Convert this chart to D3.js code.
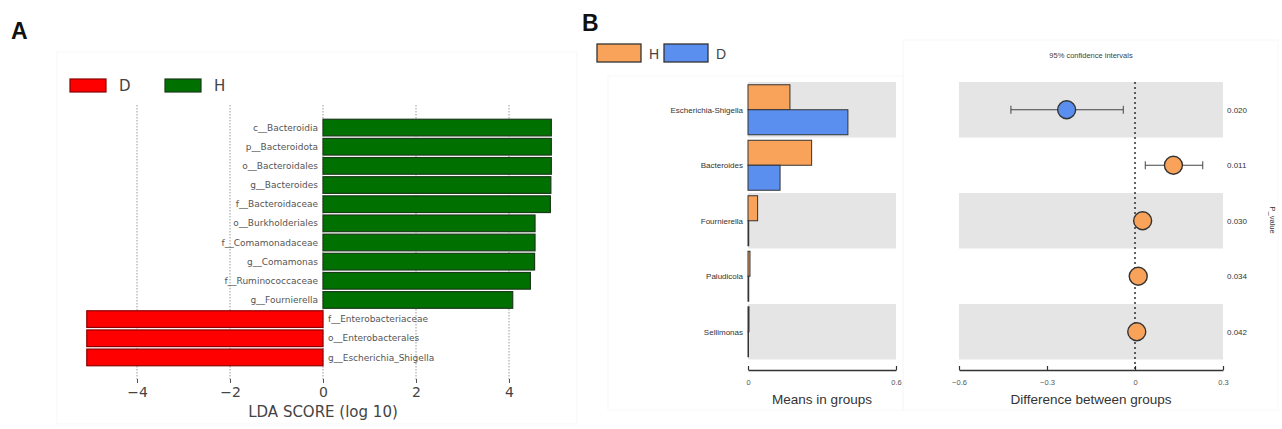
<!DOCTYPE html>
<html><head><meta charset="utf-8">
<script src="https://cdn.jsdelivr.net/npm/d3@7"></script>
<style>body{margin:0;background:#fff}svg{display:block}</style>
</head><body>
<script>
// ---- Panel A data (LEfSe) ----
const ldaLabels = ["c__Bacteroidia","p__Bacteroidota","o__Bacteroidales","g__Bacteroides","f__Bacteroidaceae","o__Burkholderiales","f__Comamonadaceae","g__Comamonas","f__Ruminococcaceae","g__Fournierella","f__Enterobacteriaceae","o__Enterobacterales","g__Escherichia_Shigella"];
const ldaScores = [4.91,4.91,4.91,4.90,4.89,4.56,4.56,4.55,4.46,4.08,-5.08,-5.08,-5.08];
const ldaTicks = [-4,-2,0,2,4];
const ldaGroups = ["D","H"];

// ---- Panel B data (STAMP) ----
const genera = ["Escherichia-Shigella","Bacteroides","Fournierella","Paludicola","Sellimonas"];
const meanH = [0.170,0.258,0.039,0.008,0.004];
const meanD = [0.405,0.130,0.003,0.003,0.002];
const diffs = [-0.233,0.131,0.026,0.011,0.006];
const ciLow = [-0.423,0.035,0.016,0.004,0.001];
const ciHigh = [-0.040,0.231,0.036,0.018,0.011];
const pValues = ["0.020","0.011","0.030","0.034","0.042"];
const meanTicks = [0,0.6];
const diffTicks = [-0.6,-0.3,0,0.3];
const groupsB = ["H","D"];

const W=1282,H=429;
const svg=d3.select("body").append("svg").attr("width",W).attr("height",H);

// ================= Panel A =================
const fA="DejaVu Sans, sans-serif";
svg.append("rect").attr("x",57).attr("y",52).attr("width",520).attr("height",372)
  .attr("fill","none").attr("stroke","#f7f7f7");
svg.append("text").attr("x",11).attr("y",39).text("A")
  .attr("font-family","Liberation Sans, Arial").attr("font-weight","bold").attr("font-size",23).attr("fill","#111");

const xA=d3.scaleLinear().domain([-4,4]).range([137,509]);
const yA=d3.scaleBand().domain(ldaLabels).range([118,367]).paddingInner(0.13).paddingOuter(0.065);
const colA={D:"#ff0000",H:"#007000"};
const strokeA={D:"#8b0000",H:"#1a3a1a"};

// grid
svg.append("g").selectAll("line").data(ldaTicks).join("line")
  .attr("x1",d=>xA(d)).attr("x2",d=>xA(d)).attr("y1",105).attr("y2",380)
  .attr("stroke","#999").attr("stroke-width",1).attr("stroke-dasharray","1.5,1.5");

// bars
svg.append("g").selectAll("rect").data(ldaLabels).join("rect")
  .attr("x",(d,i)=>xA(Math.min(0,ldaScores[i])))
  .attr("y",d=>yA(d))
  .attr("width",(d,i)=>Math.abs(xA(ldaScores[i])-xA(0)))
  .attr("height",yA.bandwidth())
  .attr("fill",(d,i)=>colA[ldaScores[i]<0?"D":"H"])
  .attr("stroke",(d,i)=>strokeA[ldaScores[i]<0?"D":"H"]).attr("stroke-width",1.2);

// labels
svg.append("g").selectAll("text").data(ldaLabels).join("text")
  .attr("x",(d,i)=>ldaScores[i]<0?xA(0)+5:xA(0)-5)
  .attr("y",d=>yA(d)+yA.bandwidth()/2)
  .attr("dy","0.35em")
  .attr("text-anchor",(d,i)=>ldaScores[i]<0?"start":"end")
  .attr("font-family",fA).attr("font-size",9).attr("fill","#555").text(d=>d);

// axis
const axA=svg.append("g").attr("transform","translate(0,379)")
  .call(d3.axisBottom(xA).tickValues(ldaTicks).tickSize(4).tickPadding(4).tickFormat(d=>d<0?"\u2212"+Math.abs(d):d));
axA.select(".domain").remove();
axA.selectAll("line").attr("stroke","#555");
axA.selectAll("text").attr("font-family",fA).attr("font-size",14).attr("fill","#444");
svg.append("text").attr("x",xA(0)).attr("y",417).attr("text-anchor","middle")
  .attr("font-family",fA).attr("font-size",15).attr("fill","#444").text("LDA SCORE (log 10)");

// legend A
const legA=svg.append("g");
ldaGroups.forEach((g,i)=>{
  const x0=70+i*95;
  legA.append("rect").attr("x",x0).attr("y",79).attr("width",36).attr("height",13)
    .attr("fill",colA[g]).attr("stroke",strokeA[g]).attr("stroke-width",1.2);
  legA.append("text").attr("x",x0+49).attr("y",91).text(g)
    .attr("font-family",fA).attr("font-size",15).attr("fill","#444");
});

// ================= Panel B =================
const fB="Liberation Sans, Arial, sans-serif";
svg.append("text").attr("x",582).attr("y",31).text("B")
  .attr("font-family",fB).attr("font-weight","bold").attr("font-size",23).attr("fill","#111");
svg.append("rect").attr("x",608).attr("y",76).attr("width",295).attr("height",334).attr("fill","none").attr("stroke","#f8f8f8");
svg.append("rect").attr("x",903).attr("y",40).attr("width",375).attr("height",370).attr("fill","none").attr("stroke","#f8f8f8");

const colB={H:"#F9A35A",D:"#5B8FEF"};
const yB=d3.scaleBand().domain(genera).range([82,359.5]);
const yIn=d3.scaleBand().domain(groupsB).range([0,yB.bandwidth()]).paddingOuter(0.11);
const xM=d3.scaleLinear().domain([0,0.6]).range([748,896]);
const xD=d3.scaleLinear().domain([-0.6,0.3]).range([959,1223]);

// bands
genera.forEach((g,i)=>{
  if(i%2===0){
    svg.append("rect").attr("x",xM(0)).attr("y",yB(g)).attr("width",xM(0.6)-xM(0)).attr("height",yB.bandwidth()).attr("fill","#e5e5e5");
    svg.append("rect").attr("x",xD(-0.6)).attr("y",yB(g)).attr("width",xD(0.3)-xD(-0.6)).attr("height",yB.bandwidth()).attr("fill","#e5e5e5");
  }
});

// mean bars
const meansBy={H:meanH,D:meanD};
genera.forEach((g,i)=>{
  groupsB.forEach(k=>{
    svg.append("rect").attr("x",xM(0)).attr("y",yB(g)+yIn(k))
      .attr("width",Math.max(xM(meansBy[k][i])-xM(0),0.5)).attr("height",yIn.bandwidth())
      .attr("fill",colB[k]).attr("stroke","#333").attr("stroke-width",1);
  });
});
// row labels
svg.append("g").selectAll("text").data(genera).join("text")
  .attr("x",743).attr("y",d=>yB(d)+yB.bandwidth()/2).attr("dy","0.35em").attr("text-anchor","end")
  .attr("font-family",fB).attr("font-size",8).attr("fill","#333").text(d=>d);

// axes B
function bAxis(scale,ticks,fmt){
  const g=svg.append("g").attr("transform","translate(0,370)")
    .call(d3.axisBottom(scale).tickValues(ticks).tickSize(0).tickPadding(10).tickFormat(fmt));
  g.select(".domain").attr("stroke","#333").attr("stroke-width",1.6);
  g.selectAll(".tick").append("line").attr("y1",0).attr("y2",-4).attr("stroke","#333").attr("stroke-width",1.2);
  g.selectAll("text").attr("font-family",fB).attr("font-size",7.5).attr("fill","#555");
  return g;
}
bAxis(xM,meanTicks,d=>d===0?"0":d3.format(".1f")(d));
bAxis(xD,diffTicks,d=>d===0?"0":d3.format(".1f")(d));
svg.append("text").attr("x",(xM(0)+xM(0.6))/2).attr("y",404).attr("text-anchor","middle")
  .attr("font-family",fB).attr("font-size",13.5).attr("fill","#333").text("Means in groups");
svg.append("text").attr("x",(xD(-0.6)+xD(0.3))/2).attr("y",404).attr("text-anchor","middle")
  .attr("font-family",fB).attr("font-size",13.5).attr("fill","#333").text("Difference between groups");

// zero line
svg.append("line").attr("x1",xD(0)).attr("x2",xD(0)).attr("y1",82).attr("y2",370)
  .attr("stroke","#222").attr("stroke-width",1.4).attr("stroke-dasharray","2,3");

// CI & points
genera.forEach((g,i)=>{
  const cy=yB(g)+yB.bandwidth()/2;
  svg.append("line").attr("x1",xD(ciLow[i])).attr("x2",xD(ciHigh[i])).attr("y1",cy).attr("y2",cy).attr("stroke","#444").attr("stroke-width",1);
  [ciLow[i],ciHigh[i]].forEach(v=>svg.append("line").attr("x1",xD(v)).attr("x2",xD(v)).attr("y1",cy-4).attr("y2",cy+4).attr("stroke","#444").attr("stroke-width",1));
  svg.append("circle").attr("cx",xD(diffs[i])).attr("cy",cy).attr("r",9)
    .attr("fill",diffs[i]<0?colB.D:colB.H).attr("stroke","#333").attr("stroke-width",1.4);
  svg.append("text").attr("x",1227).attr("y",cy).attr("dy","0.35em")
    .attr("font-family",fB).attr("font-size",8).attr("fill","#333").text(pValues[i]);
});
svg.append("text").attr("x",xD(-0.15)).attr("y",58).attr("text-anchor","middle")
  .attr("font-family",fB).attr("font-size",7.5).attr("fill","#444").text("95% confidence intervals");
svg.append("text").attr("transform","translate(1270,220) rotate(90)").attr("text-anchor","middle")
  .attr("font-family",fB).attr("font-size",7.5).attr("fill","#333").text("P_value");

// legend B
groupsB.forEach((k,i)=>{
  const x0=597+i*67;
  svg.append("rect").attr("x",x0).attr("y",44).attr("width",44).attr("height",18)
    .attr("fill",colB[k]).attr("stroke","#333").attr("stroke-width",1.3);
  svg.append("text").attr("x",x0+52).attr("y",58.5).text(k)
    .attr("font-family",fB).attr("font-size",14).attr("fill","#444");
});
</script>
</body></html>
